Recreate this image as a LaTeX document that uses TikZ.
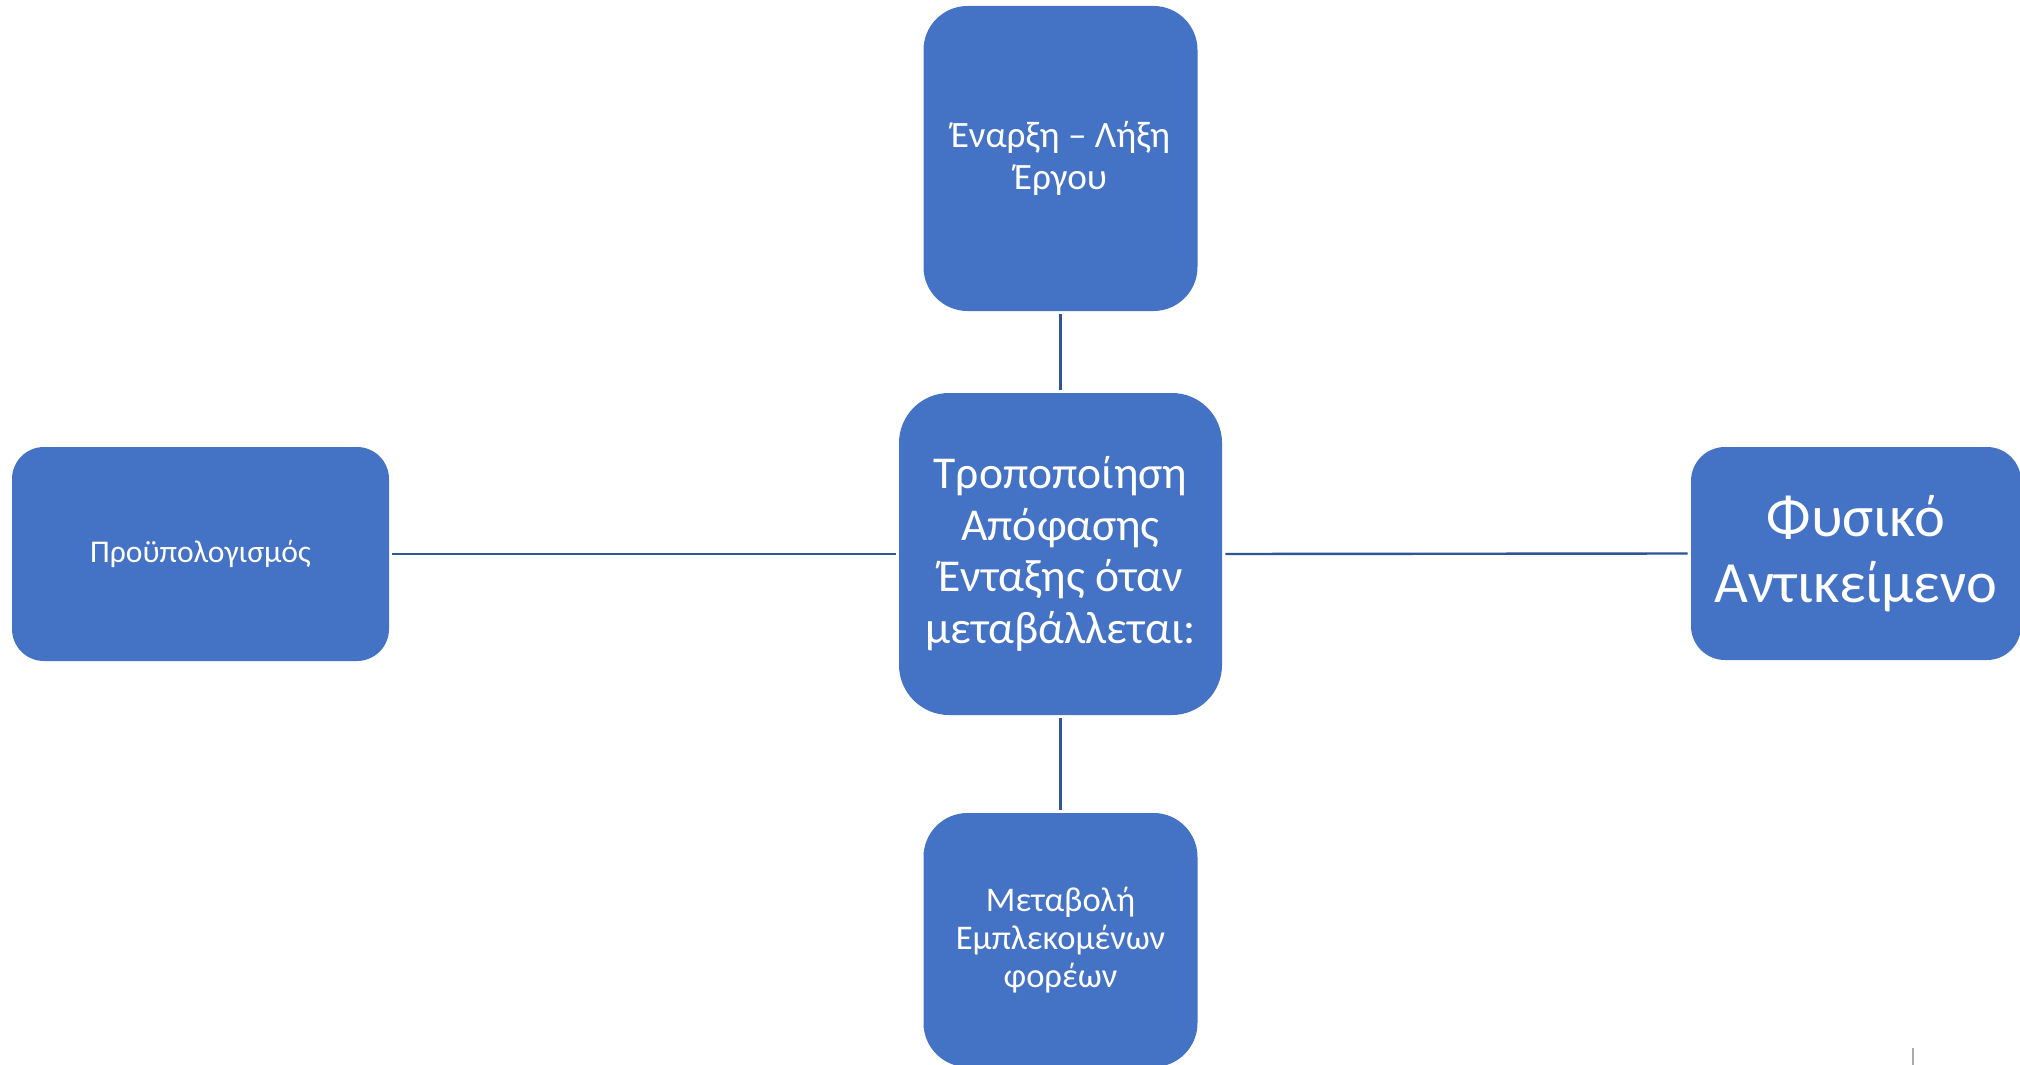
\documentclass[tikz,border=0pt]{standalone}
\usepackage{fontspec}
\setmainfont{Carlito}
\definecolor{boxblue}{RGB}{68,114,196}
\definecolor{lineblue}{RGB}{47,85,151}
\definecolor{markgrey}{RGB}{170,170,170}
\begin{document}
\begin{tikzpicture}[x=0.5pt,y=-0.5pt,
  box/.style={rectangle,fill=boxblue,draw=none,text=white,align=center,inner sep=0pt},
  link/.style={draw=lineblue,line width=1.2pt}]
\useasboundingbox[fill=white] (0,0) rectangle (2020,1065);
\node[box,rounded corners=22pt,minimum width=137pt,minimum height=152.5pt,
  font=\fontsize{18.6}{21.3}\selectfont] (top) at (1060.5,158.5) {Έναρξη – Λήξη\\Έργου};
\node[box,rounded corners=25pt,minimum width=161.5pt,minimum height=161pt,
  font=\fontsize{22.8}{25.8}\selectfont] (ctr) at (1060.5,554) {Τροποποίηση\\Απόφασης\\Ένταξης όταν\\μεταβάλλεται:};
\node[box,rounded corners=16pt,minimum width=188.5pt,minimum height=107pt,
  font=\fontsize{15.8}{19}\selectfont] (lft) at (200.5,554) {Προϋπολογισμός};
\node[box,rounded corners=17pt,minimum width=165pt,minimum height=106.5pt,
  font=\fontsize{29.2}{32.9}\selectfont] (rgt) at (1856,553.5) {Φυσικό\\Αντικείμενο};
\node[box,rounded corners=22pt,minimum width=137pt,minimum height=127pt,
  font=\fontsize{17.3}{19}\selectfont] (bot) at (1060.5,940) {Μεταβολή\\Εμπλεκομένων\\φορέων};
\draw[link,shorten <=1.5pt,shorten >=1.5pt] (top.south) -- (ctr.north);
\draw[link,shorten <=1.5pt,shorten >=1.5pt] (lft.east) -- (ctr.west);
\draw[link,shorten <=1.5pt,shorten >=1.5pt] (ctr.east) -- (rgt.west);
\draw[link,shorten <=1.5pt,shorten >=1.5pt] (ctr.south) -- (bot.north);
\draw[markgrey,line width=0.8pt] (1913,1048) -- (1913,1065);
\end{tikzpicture}
\end{document}
